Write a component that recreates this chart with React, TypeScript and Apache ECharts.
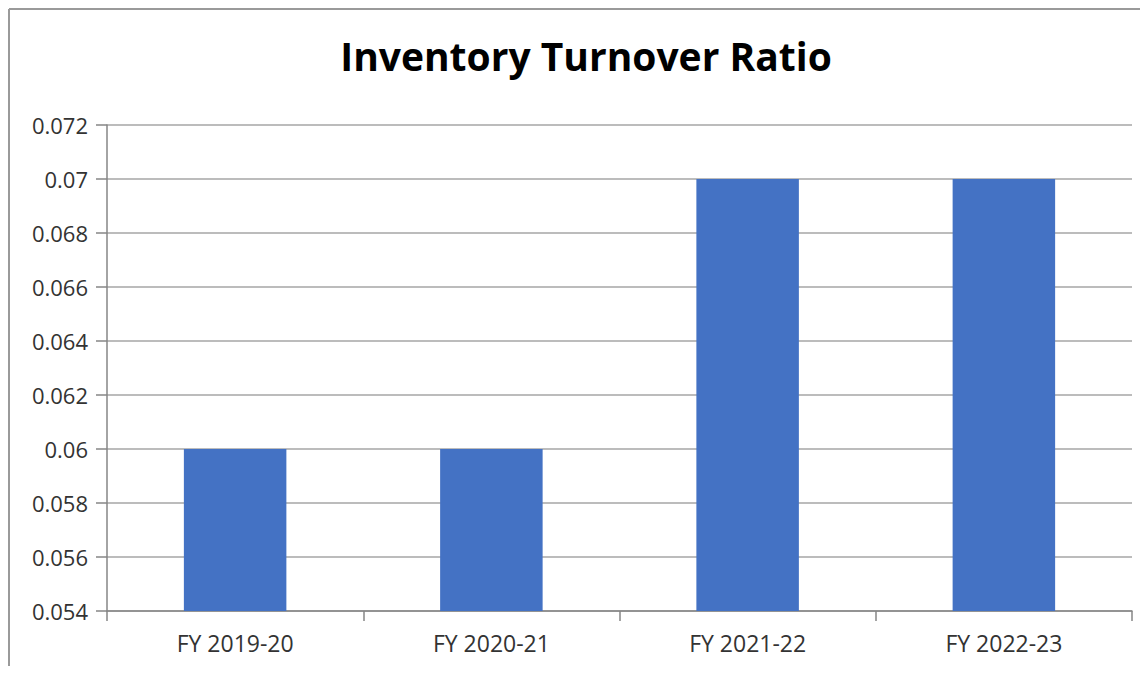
import React, { useEffect, useRef } from "react";
import * as echarts from "echarts";

const title = "Inventory Turnover Ratio";
const categories = ["FY 2019-20", "FY 2020-21", "FY 2021-22", "FY 2022-23"];
const values = [0.06, 0.06, 0.07, 0.07];
const yMin = 0.054;
const yMax = 0.072;
const yStep = 0.002;

export default function App() {
  const ref = useRef<HTMLDivElement>(null);
  useEffect(() => {
    if (!ref.current) return;
    const chart = echarts.init(ref.current, null, { renderer: "svg" });
    chart.setOption({
      animation: false,
      backgroundColor: "#ffffff",
      title: {
        text: title,
        left: 573,
        textAlign: "center",
        top: 23,
        textStyle: {
          fontFamily: "Open Sans",
          fontWeight: "bold",
          fontSize: 39,
          color: "#000000",
        },
      },
      graphic: [
        { type: "line", shape: { x1: 1, y1: 1, x2: 1140, y2: 1 }, style: { stroke: "#9a9a9a", lineWidth: 2 } },
        { type: "line", shape: { x1: 1, y1: 1, x2: 1, y2: 666 }, style: { stroke: "#9a9a9a", lineWidth: 2 } },
      ],
      grid: { left: 99, right: 16, top: 117, bottom: 55, containLabel: false },
      xAxis: {
        type: "category",
        data: categories,
        axisLine: { lineStyle: { color: "#868686", width: 1.5 } },
        axisTick: { show: true, length: 10, lineStyle: { color: "#868686", width: 1.5 } },
        axisLabel: { fontFamily: "Open Sans", fontSize: 23, color: "#333333", margin: 20 },
      },
      yAxis: {
        type: "value",
        min: yMin,
        max: yMax,
        interval: yStep,
        axisLine: { show: true, lineStyle: { color: "#868686", width: 1.5 } },
        axisTick: { show: true, length: 11, lineStyle: { color: "#868686", width: 1.5 } },
        splitLine: { lineStyle: { color: "#a6a6a6", width: 1.5 } },
        axisLabel: {
          fontFamily: "Open Sans",
          fontSize: 22,
          color: "#333333",
          margin: 19,
          formatter: (v: number) => String(Number(v.toFixed(3))),
        },
      },
      series: [
        {
          type: "bar",
          data: values,
          barWidth: "40%",
          itemStyle: { color: "#4472C4" },
        },
      ],
    });
    return () => chart.dispose();
  }, []);
  return <div ref={ref} style={{ width: 1140, height: 658 }} />;
}
